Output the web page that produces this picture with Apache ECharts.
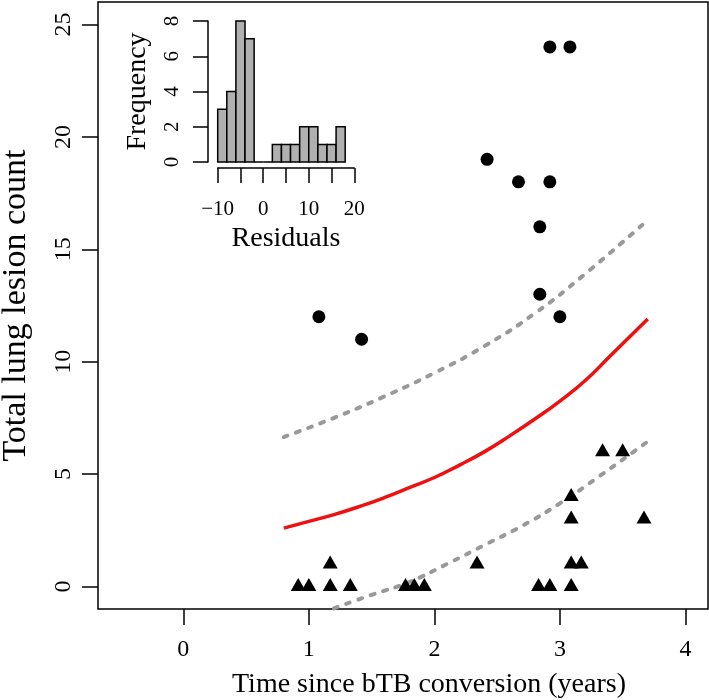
<!DOCTYPE html>
<html><head><meta charset="utf-8">
<script src="https://cdn.jsdelivr.net/npm/echarts@6/dist/echarts.min.js"></script>
<style>html,body{margin:0;padding:0;background:#fff}#c{width:709px;height:700px}</style>
</head><body><div id="c"></div>
<script>
// ---- data ----
const circleX = [1.08, 1.42, 2.42, 2.67, 2.92, 2.84, 2.84, 3.00, 2.92, 3.08];
const circleY = [12, 11, 19, 18, 18, 16, 13, 12, 24, 24];
const triX = [0.915, 1.00, 1.17, 1.33, 1.17, 1.77, 1.84, 1.92, 2.34, 2.83, 2.92, 3.09, 3.09, 3.17, 3.09, 3.09, 3.34, 3.50, 3.67];
const triY = [0, 0, 0, 0, 1, 0, 0, 0, 1, 0, 0, 0, 1, 1, 3, 4, 6, 6, 3];
const fitX = [0.8, 1.0, 1.2, 1.4, 1.6, 1.8, 2.0, 2.2, 2.4, 2.6, 2.8, 3.0, 3.2, 3.4, 3.7];
const fitY = [2.6, 2.9, 3.2, 3.55, 3.95, 4.4, 4.85, 5.4, 6.0, 6.7, 7.45, 8.25, 9.15, 10.25, 11.9];
const upX = [0.8, 1.2, 1.6, 2.0, 2.4, 2.8, 3.2, 3.7];
const upY = [6.65, 7.5, 8.45, 9.5, 10.7, 12.15, 13.9, 16.3];
const loX = [1.2, 1.5, 1.8, 2.1, 2.4, 2.7, 3.0, 3.3, 3.7];
const loY = [-0.97, -0.37, 0.2, 1.0, 1.85, 2.7, 3.7, 4.85, 6.45];
const xTicks = [0, 1, 2, 3, 4];
const yTicks = [0, 5, 10, 15, 20, 25];
const binStart = [-10, -8, -6, -4, -2, 0, 2, 4, 6, 8, 10, 12, 14, 16];
const binCount = [3, 4, 8, 7, 0, 0, 1, 1, 1, 2, 2, 1, 1, 2];
const binWidth = 2;
const histXLabels = [-10, 0, 10, 20];

const zip = (a, b) => a.map((v, i) => [v, b[i]]);
const FONT = 'Liberation Serif';
const chart = echarts.init(document.getElementById('c'), null, {renderer: 'canvas'});

chart.setOption({
  animation: false,
  backgroundColor: '#fff',
  textStyle: {fontFamily: FONT},
  grid: [
    {left: 98, right: 1, top: 2, bottom: 91, show: true, borderColor: '#000', borderWidth: 1.5,
     backgroundColor: 'transparent', containLabel: false, outerBoundsMode: 'none'},
    {left: 217.7, top: 21, width: 136.6, height: 141, containLabel: false, outerBoundsMode: 'none'}
  ],
  xAxis: [
    {
      type: 'value', gridIndex: 0, min: -0.68, max: 4.18,
      axisLine: {show: false, onZero: false},
      splitLine: {show: false},
      axisTick: {show: true, customValues: xTicks, length: 16, inside: false, lineStyle: {color: '#000', width: 1.5}},
      axisLabel: {customValues: xTicks, color: '#000', fontSize: 24, fontFamily: FONT, margin: 29},
      name: 'Time since bTB conversion (years)', nameLocation: 'middle', nameGap: 62,
      nameTextStyle: {color: '#000', fontSize: 28, fontFamily: FONT, padding: [0, 0, 0, 52]}
    },
    {
      type: 'value', gridIndex: 1, min: -10, max: 20, interval: 5, offset: 6,
      axisLine: {show: true, onZero: false, lineStyle: {color: '#000', width: 1.5}},
      splitLine: {show: false},
      axisTick: {show: true, length: 15, lineStyle: {color: '#000', width: 1.5}},
      axisLabel: {customValues: histXLabels, color: '#000', fontSize: 21, fontFamily: FONT, margin: 31,
        formatter: v => v < 0 ? '\u2212' + Math.abs(v) : String(v)},
      name: 'Residuals', nameLocation: 'middle', nameGap: 57,
      nameTextStyle: {color: '#000', fontSize: 28, fontFamily: FONT}
    }
  ],
  yAxis: [
    {
      type: 'value', gridIndex: 0, min: -1, max: 26,
      axisLine: {show: false, onZero: false},
      splitLine: {show: false},
      axisTick: {show: true, customValues: yTicks, length: 16, inside: false, lineStyle: {color: '#000', width: 1.5}},
      axisLabel: {customValues: yTicks, color: '#000', fontSize: 24, fontFamily: FONT, margin: 22, rotate: 90},
      name: 'Total lung lesion count', nameLocation: 'middle', nameGap: 65, nameRotate: 90,
      nameTextStyle: {color: '#000', fontSize: 34, fontFamily: FONT}
    },
    {
      type: 'value', gridIndex: 1, min: 0, max: 8, interval: 2, offset: 9.7,
      axisLine: {show: true, onZero: false, lineStyle: {color: '#000', width: 1.5}},
      splitLine: {show: false},
      axisTick: {show: true, length: 15, lineStyle: {color: '#000', width: 1.5}},
      axisLabel: {color: '#000', fontSize: 21, fontFamily: FONT, margin: 25, rotate: 90},
      name: 'Frequency', nameLocation: 'middle', nameGap: 56, nameRotate: 90,
      nameTextStyle: {color: '#000', fontSize: 28, fontFamily: FONT}
    }
  ],
  series: [
    {
      type: 'line', xAxisIndex: 0, yAxisIndex: 0, data: zip(upX, upY), smooth: true, showSymbol: false,
      lineStyle: {color: '#999', width: 4, type: [4, 9], cap: 'round'}, z: 2
    },
    {
      type: 'line', xAxisIndex: 0, yAxisIndex: 0, data: zip(loX, loY), smooth: true, showSymbol: false, clip: true,
      lineStyle: {color: '#999', width: 4, type: [4, 9], cap: 'round'}, z: 2
    },
    {
      type: 'line', xAxisIndex: 0, yAxisIndex: 0, data: zip(fitX, fitY), smooth: true, showSymbol: false,
      lineStyle: {color: '#ee1111', width: 3.5}, z: 3
    },
    {
      type: 'scatter', xAxisIndex: 0, yAxisIndex: 0, data: zip(circleX, circleY),
      symbol: 'circle', symbolSize: 13, itemStyle: {color: '#000', opacity: 1}, z: 4
    },
    {
      type: 'scatter', xAxisIndex: 0, yAxisIndex: 0, data: zip(triX, triY),
      symbol: 'triangle', symbolSize: [15, 13], symbolOffset: [0, -2], itemStyle: {color: '#000', opacity: 1}, z: 4
    },
    {
      type: 'custom', xAxisIndex: 1, yAxisIndex: 1,
      data: binStart.map((s, i) => [s, s + binWidth, binCount[i]]),
      encode: {x: [0, 1], y: 2},
      renderItem: function (params, api) {
        const p0 = api.coord([api.value(0), api.value(2)]);
        const p1 = api.coord([api.value(1), 0]);
        return {
          type: 'rect',
          shape: {x: p0[0], y: p0[1], width: p1[0] - p0[0], height: p1[1] - p0[1]},
          style: {fill: '#b0b0b0', stroke: '#000', lineWidth: 1.5}
        };
      },
      z: 5
    }
  ]
});
</script></body></html>
